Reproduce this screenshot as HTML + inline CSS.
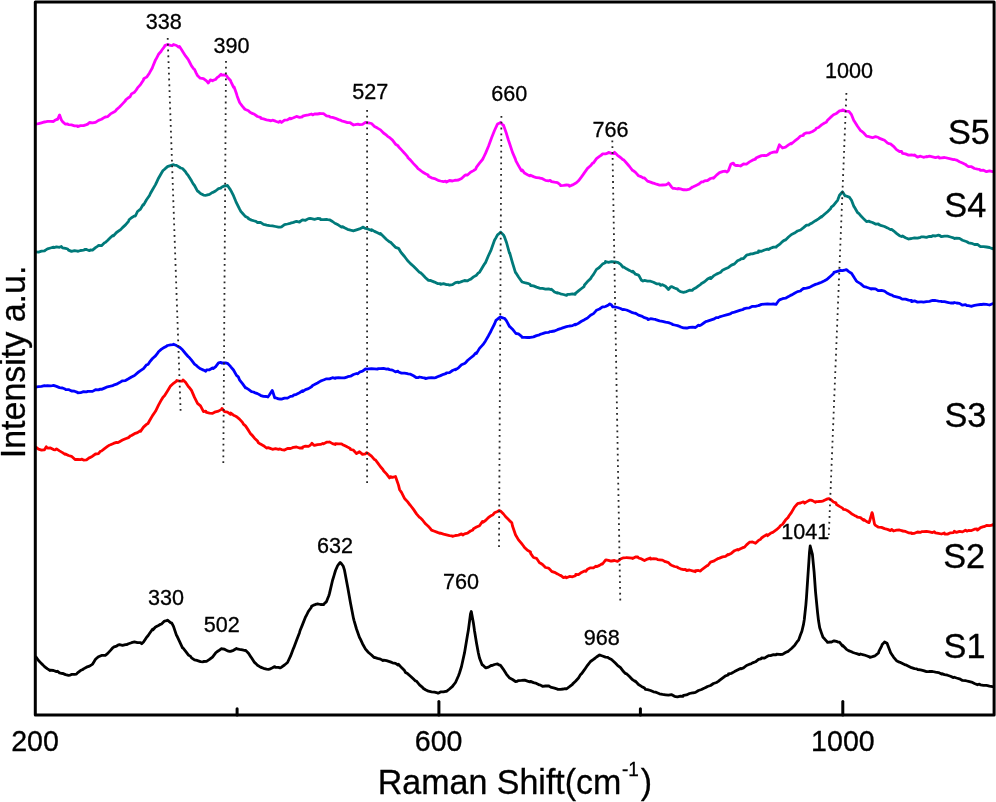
<!DOCTYPE html>
<html><head><meta charset="utf-8"><title>Raman spectra</title>
<style>
html,body{margin:0;padding:0;background:#fff;}
body{width:996px;height:802px;overflow:hidden;}
svg{display:block;}
text{font-family:"Liberation Sans",sans-serif;fill:#000;stroke:#000;stroke-width:0.3px;}
</style></head><body>
<svg width="996" height="802" viewBox="0 0 996 802">
<rect x="0" y="0" width="996" height="802" fill="#ffffff"/>
<path d="M35.5,124.2 L38.5,123.7 L41.5,122.8 L44.5,121.9 L45.1,122.0 L47.5,121.3 L50.5,121.4 L53.5,121.5 L55.1,120.2 L56.5,119.5 L57.6,119.3 L59.5,115.1 L59.6,115.0 L61.4,119.9 L62.5,121.6 L65.5,124.2 L67.7,124.0 L68.5,124.7 L71.5,124.9 L74.5,125.8 L77.5,125.8 L77.7,126.6 L80.5,125.7 L83.5,125.6 L86.5,124.6 L87.7,124.1 L89.5,122.5 L92.5,122.9 L95.3,122.4 L95.5,122.4 L98.5,120.4 L101.5,119.3 L104.5,117.4 L105.3,117.0 L107.5,116.7 L110.5,113.9 L113.5,112.2 L115.3,111.3 L116.5,109.6 L119.5,107.0 L122.5,103.9 L125.4,100.8 L125.5,100.1 L128.5,97.7 L130.0,96.8 L131.5,93.9 L134.5,92.2 L136.2,90.0 L137.5,87.9 L140.5,84.6 L143.5,79.9 L143.7,78.7 L146.5,77.1 L146.8,77.1 L149.5,72.9 L152.4,67.7 L152.5,67.2 L155.5,59.9 L156.2,58.8 L158.5,54.3 L161.2,51.3 L161.5,50.5 L164.5,46.6 L164.9,45.6 L167.5,44.5 L168.0,44.6 L170.5,45.3 L172.4,45.6 L173.5,44.5 L176.5,45.5 L178.6,47.1 L179.5,46.5 L182.4,51.0 L182.5,51.3 L185.5,55.9 L187.4,58.4 L188.5,60.0 L191.5,65.8 L191.7,66.1 L193.6,68.8 L194.5,69.4 L196.1,72.8 L197.5,75.5 L199.8,77.9 L200.5,78.2 L203.5,78.6 L204.8,79.6 L206.5,80.9 L208.3,83.0 L209.5,81.2 L210.4,79.9 L212.5,80.8 L212.9,80.3 L215.5,79.5 L217.3,77.4 L218.5,76.7 L221.0,74.3 L221.5,75.1 L224.5,74.9 L226.6,75.8 L227.5,77.3 L230.5,80.5 L231.0,81.8 L233.5,87.2 L234.1,87.0 L236.5,93.8 L237.2,96.2 L239.5,102.3 L240.3,103.5 L242.5,106.4 L244.7,109.0 L245.5,109.5 L248.5,110.8 L249.7,112.0 L251.5,113.1 L254.5,114.3 L257.5,116.5 L260.5,117.3 L260.9,118.4 L263.5,118.9 L266.5,119.8 L269.5,120.3 L271.0,120.8 L272.5,120.2 L275.5,121.2 L278.5,122.3 L280.0,121.1 L281.5,122.5 L284.5,120.1 L287.5,119.9 L290.0,118.2 L290.5,118.9 L293.5,117.8 L296.5,116.4 L299.5,117.3 L302.5,116.8 L302.6,116.1 L305.5,115.4 L308.5,114.9 L311.5,114.0 L312.6,114.9 L314.5,114.0 L317.5,114.0 L320.2,113.5 L320.5,113.6 L323.5,113.7 L326.5,115.9 L329.5,116.3 L330.2,117.1 L332.5,117.4 L335.5,118.3 L338.5,119.6 L340.2,120.1 L341.5,120.8 L344.5,121.6 L347.5,122.6 L350.3,122.7 L350.5,123.0 L353.5,125.0 L356.5,124.3 L357.8,124.2 L359.5,124.7 L362.5,124.4 L365.5,122.3 L366.6,122.8 L368.5,122.8 L371.5,123.5 L374.5,126.5 L377.5,128.1 L377.9,128.4 L380.5,129.9 L383.5,133.0 L386.5,135.2 L387.9,136.6 L389.5,137.5 L392.5,140.1 L395.5,144.2 L398.0,145.7 L398.5,146.7 L401.5,149.9 L404.5,153.2 L407.5,156.7 L408.0,157.8 L410.5,160.1 L413.5,163.6 L416.5,166.7 L418.0,168.7 L419.5,169.7 L422.5,172.0 L425.5,173.7 L428.1,174.9 L428.5,176.3 L431.5,177.8 L434.5,178.6 L437.5,180.0 L438.1,180.3 L440.5,181.0 L443.5,181.7 L445.7,181.2 L446.5,182.1 L449.5,180.5 L452.5,181.0 L455.5,180.2 L455.7,180.3 L458.5,180.0 L461.5,178.5 L464.5,175.7 L465.7,174.8 L467.5,175.0 L470.5,172.3 L473.5,170.6 L475.8,169.0 L476.5,167.1 L479.5,163.1 L482.5,159.5 L483.3,158.0 L485.5,153.4 L488.5,146.2 L490.8,140.1 L491.5,138.0 L494.5,130.5 L497.1,124.9 L497.5,124.1 L500.4,122.7 L500.5,122.4 L503.4,125.6 L503.5,125.1 L506.5,133.8 L508.4,140.0 L509.5,143.2 L512.5,152.4 L515.5,159.4 L515.9,160.8 L518.5,165.6 L521.5,170.9 L522.2,169.9 L524.5,173.1 L527.5,174.7 L530.0,175.9 L530.5,175.3 L533.5,176.6 L536.5,177.7 L539.5,177.9 L540.0,178.1 L542.5,178.7 L545.5,180.4 L548.5,180.8 L550.1,180.3 L551.5,181.6 L554.5,182.2 L557.5,182.7 L560.1,184.6 L560.5,185.6 L563.5,185.4 L566.5,185.0 L568.9,185.2 L569.5,186.2 L572.5,184.9 L575.5,183.3 L576.4,182.7 L578.5,180.8 L581.5,176.9 L584.0,173.4 L584.5,172.6 L587.5,168.4 L590.5,165.8 L592.8,162.8 L593.5,162.9 L596.5,158.6 L599.5,156.3 L601.5,155.0 L602.5,153.8 L605.5,153.8 L607.8,153.2 L608.5,152.3 L611.5,153.3 L614.1,153.7 L614.5,152.3 L617.5,155.3 L620.5,157.5 L622.9,159.6 L623.5,159.6 L626.5,163.0 L629.5,166.5 L632.5,170.3 L632.9,170.3 L635.5,172.4 L638.5,175.7 L641.5,176.9 L643.0,177.9 L644.5,178.0 L647.5,181.1 L650.5,182.1 L653.0,183.1 L653.5,183.1 L656.5,184.2 L659.5,185.2 L660.5,185.1 L662.5,185.0 L665.5,184.9 L668.5,183.5 L668.6,183.0 L671.5,186.9 L673.1,188.4 L674.5,188.3 L677.5,189.0 L678.1,188.5 L680.5,188.9 L683.5,189.9 L684.4,189.6 L686.5,189.9 L689.5,189.1 L692.5,187.0 L693.2,186.8 L695.5,185.7 L698.5,184.3 L701.5,181.9 L703.2,181.8 L704.5,180.9 L707.5,180.5 L710.5,178.5 L713.2,177.9 L713.5,178.2 L716.5,175.1 L719.5,172.6 L722.5,171.6 L723.3,171.4 L725.5,171.2 L727.0,172.1 L728.5,170.5 L730.8,164.2 L731.5,163.9 L733.3,163.1 L734.5,164.9 L735.8,165.5 L737.5,165.4 L740.5,166.0 L743.5,164.0 L745.9,164.1 L746.5,164.1 L749.5,161.9 L752.5,160.2 L755.5,159.2 L755.9,158.0 L758.5,156.9 L761.5,155.6 L764.5,155.4 L765.9,155.7 L767.5,155.0 L770.5,153.0 L773.5,152.1 L774.7,152.0 L776.5,152.2 L776.8,151.9 L779.4,144.8 L779.5,144.9 L782.4,147.9 L782.5,148.0 L785.5,147.1 L788.5,144.9 L791.2,143.3 L791.5,143.8 L794.5,141.2 L797.5,138.9 L800.5,136.0 L803.5,135.3 L803.7,134.0 L806.5,132.9 L809.5,132.8 L812.5,131.5 L815.5,129.6 L816.3,128.3 L818.5,127.5 L821.5,124.9 L824.5,123.0 L826.3,122.3 L827.5,120.3 L830.5,117.4 L833.5,114.8 L836.4,113.4 L836.5,113.3 L839.5,110.9 L842.5,110.5 L842.6,109.8 L845.5,111.1 L848.5,111.4 L848.9,111.4 L851.5,114.7 L853.9,120.7 L854.5,121.4 L857.5,126.3 L860.5,130.5 L861.5,131.1 L863.5,132.8 L866.5,136.1 L869.0,136.6 L869.5,136.9 L872.5,137.7 L875.5,136.6 L878.5,137.5 L879.0,138.1 L881.5,139.1 L884.5,140.3 L887.5,143.0 L889.1,143.6 L890.5,143.8 L893.5,146.3 L896.5,149.6 L899.5,151.5 L901.6,151.4 L902.5,153.3 L905.5,153.9 L908.5,155.1 L911.5,154.9 L914.2,155.4 L914.5,155.0 L917.5,157.2 L920.5,156.2 L923.5,157.3 L926.5,156.5 L926.7,156.9 L929.5,156.1 L932.5,156.9 L935.5,157.7 L938.5,156.8 L939.3,158.0 L941.5,157.9 L944.5,157.5 L947.5,158.2 L950.5,158.8 L953.5,159.6 L954.3,159.5 L956.5,160.1 L959.5,161.7 L962.5,163.0 L965.5,164.4 L966.9,165.6 L968.5,166.7 L971.5,166.7 L974.5,168.5 L977.5,169.1 L979.4,169.3 L980.5,170.4 L983.5,170.2 L986.5,171.7 L989.5,170.9 L992.5,171.6 L993.2,171.3" fill="none" stroke="#ff00ff" stroke-width="2.8" stroke-linejoin="round" stroke-linecap="butt"/>
<path d="M35.5,251.8 L38.5,252.1 L41.5,251.2 L44.5,250.9 L45.1,250.4 L47.5,248.9 L50.5,248.0 L53.5,247.2 L53.8,247.7 L56.5,246.8 L59.5,247.3 L61.4,246.5 L62.5,247.9 L65.5,248.4 L67.7,249.0 L68.5,250.1 L71.5,251.4 L74.5,250.7 L77.5,251.2 L77.7,251.3 L80.5,250.5 L83.5,250.2 L85.2,249.3 L86.5,249.5 L89.5,250.7 L90.2,250.0 L92.5,250.1 L95.5,247.6 L97.8,246.1 L98.5,245.4 L101.5,245.7 L104.5,242.8 L105.3,242.5 L107.5,240.5 L110.5,237.6 L112.8,235.4 L113.5,235.8 L116.5,232.5 L119.5,230.3 L120.4,229.9 L122.5,227.6 L125.5,224.9 L128.5,221.3 L129.1,219.8 L131.5,217.7 L134.5,215.9 L135.4,216.0 L137.5,211.5 L140.5,209.1 L143.0,204.8 L143.5,205.1 L146.5,199.8 L149.5,195.5 L150.5,193.2 L152.5,189.7 L155.5,184.6 L156.8,181.8 L158.5,178.2 L161.5,173.0 L163.0,170.5 L164.5,169.3 L167.5,166.6 L168.0,166.4 L170.5,165.6 L173.5,164.6 L174.3,165.1 L176.5,165.4 L179.5,167.2 L180.6,168.0 L182.5,168.5 L185.5,171.7 L186.9,173.9 L188.5,175.9 L191.5,180.8 L193.2,183.9 L194.5,185.5 L197.5,191.1 L198.2,191.4 L200.5,193.5 L203.5,195.1 L205.7,195.3 L206.5,195.2 L209.5,194.3 L212.5,192.3 L213.2,192.3 L215.5,191.0 L218.5,188.7 L220.8,188.2 L221.5,187.2 L224.5,185.9 L225.8,185.8 L227.5,185.5 L230.5,189.9 L230.8,190.3 L233.5,195.7 L235.8,201.3 L236.5,202.8 L239.5,208.9 L240.8,211.4 L242.5,213.3 L245.5,216.6 L248.4,218.0 L248.5,218.8 L251.5,220.1 L254.5,221.0 L255.9,221.4 L257.5,222.5 L260.5,222.4 L263.5,224.4 L265.9,224.9 L266.5,225.1 L269.5,225.7 L272.5,225.8 L275.5,226.5 L278.5,227.2 L280.0,227.1 L281.5,226.8 L284.5,224.6 L287.5,224.0 L290.0,223.4 L290.5,223.2 L293.5,222.4 L296.5,221.3 L299.5,222.2 L300.1,221.5 L302.5,219.8 L305.5,220.3 L308.5,218.6 L310.1,218.5 L311.5,218.7 L314.5,219.4 L317.5,218.5 L320.2,218.7 L320.5,219.5 L323.5,219.7 L326.5,219.5 L327.7,219.7 L329.5,219.8 L332.5,221.5 L335.2,223.5 L335.5,223.6 L338.5,225.1 L341.5,227.1 L342.7,226.7 L344.5,227.8 L347.5,229.3 L350.5,230.2 L353.5,230.9 L354.0,230.6 L356.5,229.8 L359.5,228.9 L362.5,227.4 L362.8,227.1 L365.5,228.5 L368.5,229.2 L371.5,230.5 L371.6,229.6 L374.5,231.4 L377.5,232.7 L380.4,234.2 L380.5,233.5 L383.5,236.5 L386.5,239.5 L389.5,241.8 L390.4,242.1 L392.5,244.2 L395.5,247.3 L398.5,248.3 L400.5,251.6 L401.5,253.0 L404.5,256.5 L407.5,260.5 L410.5,263.6 L413.5,266.3 L416.5,269.3 L419.5,272.4 L420.6,272.7 L422.5,274.6 L425.5,277.7 L428.5,280.4 L430.6,280.5 L431.5,280.9 L434.5,282.1 L437.5,283.6 L440.5,283.6 L440.6,284.3 L443.5,283.7 L446.5,284.6 L448.2,284.7 L449.5,285.1 L452.5,284.7 L455.5,282.6 L458.2,282.1 L458.5,282.7 L461.5,281.6 L464.5,280.5 L467.5,280.9 L468.3,280.3 L470.5,279.3 L473.5,276.9 L476.5,275.2 L478.3,272.9 L479.5,272.3 L482.5,267.2 L484.6,263.8 L485.5,262.6 L488.5,255.5 L490.8,250.7 L491.5,248.8 L494.5,240.3 L495.9,237.9 L497.5,234.9 L500.1,232.9 L500.5,232.1 L503.5,234.9 L504.6,237.2 L506.5,242.5 L509.5,253.3 L509.7,253.0 L512.5,262.9 L515.5,272.7 L516.0,272.9 L518.5,277.0 L521.5,281.3 L522.2,282.0 L524.5,282.6 L527.5,283.3 L530.0,284.3 L530.5,285.5 L533.5,285.9 L536.5,287.1 L539.5,288.1 L540.0,288.4 L542.5,288.3 L545.5,289.1 L548.5,288.8 L551.3,289.6 L551.5,289.3 L554.5,292.0 L557.5,293.1 L557.6,292.7 L560.5,293.8 L563.5,294.5 L566.5,295.4 L567.7,294.3 L569.5,294.4 L572.5,293.9 L575.2,294.4 L575.5,293.4 L578.5,290.9 L581.5,288.5 L584.0,286.6 L584.5,285.0 L587.5,281.6 L590.5,278.7 L591.5,277.0 L593.5,274.4 L596.5,269.4 L599.0,267.8 L599.5,267.2 L602.5,264.1 L605.3,262.8 L605.5,261.5 L608.5,262.4 L611.5,261.7 L614.5,261.9 L615.3,262.0 L617.5,262.3 L620.5,264.1 L622.9,267.0 L623.5,266.8 L626.5,268.8 L629.5,270.4 L632.5,272.1 L632.9,271.3 L635.5,274.2 L638.5,275.1 L639.2,276.1 L641.5,280.3 L643.0,281.1 L644.5,280.4 L647.5,281.1 L650.5,281.2 L653.5,282.3 L656.5,283.8 L659.5,283.8 L660.5,285.3 L662.5,284.7 L665.5,286.2 L668.5,289.5 L668.6,289.4 L670.6,286.8 L671.5,286.6 L674.5,288.0 L677.5,289.1 L678.1,290.1 L680.5,291.7 L683.5,292.3 L684.4,292.1 L686.5,291.6 L689.5,290.2 L692.5,290.3 L693.2,289.3 L695.5,288.1 L698.5,285.8 L700.7,284.3 L701.5,283.5 L704.5,281.7 L707.5,279.1 L710.5,277.5 L710.7,278.7 L713.5,275.9 L716.5,274.1 L719.5,272.8 L720.8,272.2 L722.5,270.2 L725.5,268.8 L728.5,267.4 L730.8,265.6 L731.5,265.1 L734.5,263.9 L737.5,260.8 L740.5,259.4 L740.8,258.9 L743.5,258.5 L746.5,255.2 L749.5,254.4 L750.9,253.9 L752.5,253.9 L755.5,252.9 L758.5,252.4 L758.6,250.9 L761.5,251.3 L764.5,250.0 L767.5,249.1 L768.6,249.5 L770.5,248.3 L773.5,247.1 L776.1,247.2 L776.5,246.5 L779.5,244.4 L782.5,241.6 L783.7,240.6 L785.5,239.9 L788.5,237.0 L791.5,234.5 L794.5,233.1 L796.2,231.9 L797.5,231.0 L800.5,230.0 L803.5,227.7 L806.5,225.2 L808.8,225.1 L809.5,224.3 L812.5,222.7 L815.5,220.7 L818.5,218.9 L821.3,216.6 L821.5,217.1 L824.5,214.3 L827.5,211.7 L830.5,208.8 L831.3,207.1 L833.5,205.4 L836.5,201.6 L837.6,200.3 L839.5,195.2 L842.1,192.3 L842.5,191.8 L845.1,195.9 L845.5,195.8 L848.5,196.9 L849.4,197.2 L851.5,200.3 L853.9,206.5 L854.5,207.2 L857.5,212.5 L859.0,213.6 L860.5,215.5 L863.5,218.6 L866.5,221.6 L869.0,221.1 L869.5,221.6 L872.5,222.5 L875.5,224.1 L878.5,224.0 L879.0,224.6 L881.5,225.7 L884.5,226.5 L887.5,227.9 L890.5,229.6 L891.6,229.3 L893.5,230.8 L896.5,233.4 L899.5,235.7 L901.6,236.5 L902.5,236.0 L905.5,237.7 L908.5,239.0 L909.2,238.9 L911.5,238.5 L914.5,237.8 L917.5,238.2 L920.5,237.3 L921.7,236.8 L923.5,236.8 L926.5,237.4 L929.5,236.3 L931.7,236.5 L932.5,235.6 L935.5,236.0 L938.5,235.1 L939.3,235.3 L941.5,236.7 L944.5,236.2 L947.5,236.1 L950.5,237.0 L953.5,237.9 L954.3,238.5 L956.5,238.2 L959.5,238.4 L962.5,240.2 L965.5,241.3 L966.9,241.8 L968.5,242.8 L971.5,243.3 L974.5,244.5 L977.5,244.4 L979.4,245.8 L980.5,246.7 L983.5,246.7 L986.5,247.0 L989.5,247.5 L992.5,248.7 L993.2,247.4" fill="none" stroke="#007a7a" stroke-width="2.8" stroke-linejoin="round" stroke-linecap="butt"/>
<path d="M35.5,387.1 L38.5,386.7 L41.5,386.3 L44.5,385.6 L45.1,385.9 L47.5,385.7 L50.5,385.8 L52.6,385.7 L53.5,385.4 L56.5,386.4 L59.5,387.6 L62.5,388.0 L65.1,389.0 L65.5,389.5 L68.5,389.6 L71.5,391.0 L74.5,391.2 L77.5,392.4 L77.7,392.8 L80.5,392.7 L83.5,391.6 L86.5,391.8 L87.7,391.4 L89.5,391.3 L92.5,391.4 L95.5,389.7 L98.5,389.9 L100.3,389.1 L101.5,389.4 L104.5,388.1 L107.5,386.8 L110.5,386.2 L112.8,385.6 L113.5,385.1 L116.5,384.2 L119.5,382.6 L122.5,380.8 L125.4,380.7 L125.5,380.5 L128.5,378.8 L131.5,377.0 L134.5,375.5 L137.5,372.9 L137.9,372.5 L140.5,370.7 L143.5,368.7 L146.5,364.9 L148.0,364.5 L149.5,362.2 L152.5,358.5 L155.5,355.9 L158.0,352.7 L158.5,351.7 L161.5,349.1 L164.5,347.3 L165.5,346.9 L167.5,345.5 L170.5,344.9 L173.1,344.7 L173.5,344.2 L176.5,345.6 L179.3,347.2 L179.5,347.1 L182.5,349.8 L185.5,353.5 L188.1,356.5 L188.5,356.7 L191.5,360.2 L194.5,364.2 L196.9,365.9 L197.5,366.6 L200.5,368.8 L203.5,370.1 L205.7,371.2 L206.5,369.9 L209.5,369.8 L212.5,368.0 L213.2,368.5 L215.5,366.9 L218.5,362.8 L220.8,362.3 L221.5,363.0 L224.5,363.0 L225.8,363.0 L227.5,363.3 L230.5,366.4 L230.8,366.8 L233.5,370.0 L236.5,375.4 L238.3,376.9 L239.5,379.8 L242.5,383.6 L245.5,387.9 L245.9,387.8 L248.5,389.4 L251.5,391.6 L253.4,392.0 L254.5,392.6 L257.5,393.6 L260.5,395.3 L260.9,395.6 L263.5,396.4 L266.5,396.5 L267.9,397.0 L269.5,394.7 L272.2,390.4 L272.5,390.9 L274.7,397.8 L275.5,397.7 L278.5,398.9 L280.0,399.0 L281.5,399.1 L284.5,398.1 L287.5,398.1 L290.5,396.4 L292.5,396.1 L293.5,395.2 L296.5,394.3 L299.5,392.7 L302.5,390.8 L302.6,391.7 L305.5,389.6 L308.5,388.6 L311.5,386.8 L312.6,385.5 L314.5,384.6 L317.5,383.0 L320.5,381.1 L322.7,380.3 L323.5,380.0 L326.5,378.8 L329.5,378.9 L332.5,377.7 L335.2,378.4 L335.5,378.0 L338.5,377.7 L341.5,377.8 L344.5,377.8 L347.5,376.8 L347.8,376.6 L350.5,376.2 L353.5,374.5 L356.5,373.5 L357.8,373.9 L359.5,372.1 L362.5,371.2 L365.5,369.0 L367.9,369.1 L368.5,368.8 L371.5,368.7 L374.5,368.8 L377.5,369.2 L377.9,368.6 L380.5,368.6 L383.5,368.3 L386.5,369.1 L387.9,368.9 L389.5,369.6 L392.5,370.1 L395.5,371.9 L398.0,371.2 L398.5,372.0 L401.5,373.1 L404.5,373.1 L407.5,373.6 L408.0,373.9 L410.5,374.2 L413.5,375.8 L416.5,377.7 L418.0,377.6 L419.5,377.0 L422.5,377.7 L425.5,378.1 L425.6,378.7 L428.5,377.9 L431.5,377.6 L434.5,377.8 L435.6,377.6 L437.5,376.8 L440.5,375.6 L443.5,374.3 L445.7,373.7 L446.5,372.8 L449.5,372.6 L452.5,370.5 L455.5,369.3 L455.7,369.7 L458.5,367.8 L461.5,364.8 L464.5,363.5 L465.7,362.7 L467.5,360.5 L470.5,358.0 L473.5,355.7 L475.8,352.9 L476.5,353.4 L479.5,348.4 L482.5,345.1 L483.3,344.3 L485.5,340.9 L488.5,335.7 L490.8,331.5 L491.5,329.9 L494.5,324.0 L495.9,320.4 L497.5,319.2 L500.4,316.8 L500.5,317.2 L503.5,318.2 L504.6,318.4 L506.5,320.9 L509.5,326.5 L509.7,326.5 L512.5,329.2 L515.5,333.0 L516.0,333.5 L518.5,333.9 L521.5,336.3 L522.2,337.4 L524.5,337.3 L527.5,337.5 L530.0,337.5 L530.5,337.4 L533.5,336.9 L536.5,335.6 L539.5,334.9 L540.0,334.3 L542.5,333.7 L545.5,332.7 L548.5,332.4 L550.1,331.6 L551.5,331.5 L554.5,331.0 L557.5,329.7 L560.5,328.7 L562.6,327.9 L563.5,327.6 L566.5,326.7 L569.5,326.0 L572.5,325.6 L575.2,324.1 L575.5,324.9 L578.5,323.2 L581.5,321.3 L584.5,319.7 L585.2,319.2 L587.5,318.0 L590.5,315.3 L593.5,313.6 L595.3,311.6 L596.5,310.2 L599.5,309.0 L602.5,306.9 L604.0,306.9 L605.5,306.5 L608.5,304.9 L609.8,303.9 L611.5,305.0 L612.8,306.9 L614.5,306.9 L617.5,307.5 L620.5,308.5 L622.9,309.7 L623.5,309.4 L626.5,310.0 L629.5,311.3 L632.5,312.7 L635.4,313.5 L635.5,313.3 L638.5,315.1 L641.5,316.1 L644.5,317.7 L647.5,318.6 L648.0,319.6 L650.5,318.7 L653.5,319.2 L655.5,319.4 L656.5,319.9 L659.5,320.9 L662.5,321.3 L665.5,322.2 L668.5,322.6 L671.5,323.7 L673.1,324.7 L674.5,325.0 L677.5,325.6 L680.5,326.8 L680.6,327.0 L683.5,327.9 L686.5,328.0 L686.9,328.1 L689.5,327.3 L692.5,327.1 L695.5,327.5 L698.5,325.1 L699.4,325.6 L701.5,324.7 L704.5,322.5 L705.7,321.7 L707.5,321.2 L710.5,320.2 L713.5,319.2 L716.5,317.6 L718.3,317.6 L719.5,316.9 L722.5,316.0 L725.5,315.2 L728.5,314.3 L730.8,313.6 L731.5,312.8 L734.5,312.2 L737.5,311.2 L740.5,310.2 L743.4,309.5 L743.5,308.8 L746.5,308.1 L749.5,307.8 L752.5,306.3 L755.5,306.4 L758.5,305.5 L758.6,305.6 L761.5,304.4 L764.5,304.1 L767.5,304.0 L770.5,304.1 L771.1,304.1 L773.5,304.0 L776.1,304.3 L776.5,303.8 L778.6,300.8 L779.5,299.9 L782.5,298.7 L785.5,298.2 L788.5,296.6 L791.2,295.0 L791.5,295.1 L794.5,293.3 L797.5,291.6 L800.5,291.0 L801.2,290.2 L803.5,288.5 L806.5,288.2 L809.5,287.4 L812.5,285.7 L815.5,284.4 L816.3,284.2 L818.5,283.4 L821.5,282.2 L824.5,280.8 L826.3,279.8 L827.5,278.9 L830.5,276.2 L833.5,273.5 L833.9,272.4 L836.5,271.6 L839.5,270.7 L840.1,270.3 L842.5,270.6 L845.5,269.9 L846.4,269.6 L848.5,271.3 L851.4,273.3 L851.5,273.2 L854.5,278.1 L856.4,281.0 L857.5,281.9 L860.5,283.6 L863.5,286.3 L864.0,286.6 L866.5,287.2 L869.5,288.3 L871.5,289.1 L872.5,288.6 L875.5,288.9 L878.5,290.7 L881.5,290.4 L884.5,291.2 L887.5,293.3 L890.5,294.8 L891.6,294.8 L893.5,296.2 L896.5,296.8 L899.5,297.6 L901.6,298.7 L902.5,299.1 L905.5,299.2 L908.5,300.2 L911.5,300.5 L911.7,301.7 L914.5,300.8 L917.5,302.1 L920.5,301.8 L921.7,301.8 L923.5,302.1 L926.5,301.6 L929.5,301.3 L931.7,300.7 L932.5,300.4 L935.5,300.5 L938.5,301.1 L941.5,301.3 L941.8,301.7 L944.5,301.6 L947.5,302.3 L950.5,303.0 L953.5,303.0 L954.3,302.5 L956.5,303.0 L959.5,303.4 L962.5,305.2 L965.5,304.7 L966.9,305.7 L968.5,305.6 L971.5,306.4 L971.9,306.1 L974.5,305.4 L977.5,304.9 L980.5,304.5 L981.9,304.5 L983.5,304.2 L986.5,304.4 L989.5,305.0 L992.5,303.7 L993.2,304.5" fill="none" stroke="#0000ff" stroke-width="2.8" stroke-linejoin="round" stroke-linecap="butt"/>
<path d="M35.5,446.8 L38.5,449.2 L41.5,450.2 L43.8,449.8 L44.5,449.8 L46.3,446.8 L47.5,448.2 L50.5,448.0 L53.5,449.6 L55.1,449.9 L56.5,448.9 L59.5,450.9 L62.5,452.6 L65.1,454.4 L65.5,453.9 L68.5,455.5 L71.5,456.3 L74.5,459.1 L75.2,459.5 L77.5,459.3 L80.5,459.7 L81.5,459.1 L83.5,460.1 L86.5,459.9 L89.5,457.6 L90.2,457.5 L92.5,456.2 L95.5,454.0 L98.5,453.6 L100.3,451.3 L101.5,451.0 L104.5,448.6 L107.5,446.4 L109.1,445.3 L110.5,444.8 L113.5,443.4 L116.5,442.4 L117.9,442.6 L119.5,441.7 L122.5,440.1 L125.5,438.7 L128.5,437.6 L130.4,435.9 L131.5,435.5 L134.5,433.7 L137.5,432.7 L140.4,430.7 L140.5,431.4 L143.5,427.1 L146.5,424.4 L148.0,423.5 L149.5,420.8 L152.5,415.6 L155.5,411.3 L158.5,405.2 L161.5,399.7 L163.0,397.2 L164.5,395.7 L167.5,390.9 L170.5,386.0 L170.6,386.1 L173.5,383.3 L176.5,381.1 L176.8,380.5 L179.5,381.1 L182.5,381.1 L183.1,379.9 L185.5,382.2 L188.5,386.8 L189.4,387.6 L191.5,390.4 L194.5,397.4 L196.9,402.1 L197.5,403.3 L200.5,405.8 L203.5,411.7 L205.7,411.1 L206.5,412.4 L209.5,413.2 L212.5,413.4 L213.2,413.0 L215.5,411.8 L218.5,411.1 L221.5,409.4 L222.0,408.4 L224.5,411.6 L227.5,412.1 L230.5,414.3 L230.8,413.0 L233.5,415.2 L235.8,416.3 L236.5,416.7 L239.5,419.1 L242.5,422.4 L243.4,424.1 L245.5,425.9 L248.5,430.4 L250.9,434.3 L251.5,434.5 L254.5,438.2 L257.5,441.0 L258.4,442.8 L260.5,444.1 L263.5,445.7 L266.5,448.0 L268.5,447.7 L269.5,448.1 L272.5,449.3 L275.5,448.7 L278.5,449.4 L280.0,448.9 L281.5,449.6 L284.5,450.1 L287.5,448.5 L290.5,448.5 L292.5,447.7 L293.5,447.4 L296.5,447.0 L299.5,448.0 L302.5,448.0 L302.6,447.0 L305.5,446.1 L308.5,446.4 L310.1,445.4 L311.5,443.8 L311.9,443.2 L313.9,445.2 L314.5,445.4 L317.5,444.6 L320.5,444.4 L322.7,443.4 L323.5,443.9 L326.5,442.2 L328.9,442.2 L329.5,441.9 L332.5,443.6 L335.2,444.5 L335.5,443.6 L338.5,443.9 L341.5,443.8 L342.7,444.7 L344.5,445.6 L347.5,447.1 L350.3,448.4 L350.5,449.5 L353.5,450.2 L356.5,453.6 L357.8,452.8 L359.5,451.7 L362.5,454.4 L365.5,453.9 L366.6,452.6 L368.5,453.8 L371.5,456.2 L374.5,459.7 L375.4,459.9 L377.5,462.6 L380.5,466.8 L382.9,469.5 L383.5,470.7 L386.5,473.9 L389.5,477.9 L390.4,476.6 L392.5,477.3 L395.5,476.5 L398.5,485.1 L399.6,489.7 L401.5,492.4 L404.5,498.3 L405.5,499.5 L407.5,501.6 L410.1,505.1 L410.5,505.5 L413.5,509.4 L416.5,513.9 L419.5,517.4 L420.2,517.6 L422.5,520.0 L425.5,523.8 L428.5,526.5 L430.2,528.4 L431.5,530.1 L434.5,531.2 L437.5,532.4 L440.2,533.4 L440.5,533.2 L443.5,534.1 L446.5,534.9 L449.5,535.7 L451.5,535.8 L452.5,536.4 L455.5,535.5 L458.5,535.1 L461.5,533.9 L462.8,535.0 L464.5,533.9 L467.5,533.2 L470.5,531.0 L472.9,529.9 L473.5,528.7 L476.5,527.1 L479.5,525.7 L482.5,521.4 L482.9,522.3 L485.5,520.5 L488.5,517.5 L491.5,515.4 L493.0,514.7 L494.5,512.8 L497.5,511.5 L499.2,510.5 L500.5,511.0 L503.5,514.0 L505.5,516.5 L506.5,517.6 L509.5,520.6 L511.8,522.7 L512.5,526.0 L515.5,534.8 L518.5,539.9 L521.5,543.4 L523.1,545.5 L524.5,547.4 L527.5,550.3 L530.5,552.0 L530.6,553.4 L533.5,557.5 L536.5,558.3 L539.5,562.7 L540.6,563.3 L542.5,564.5 L545.5,567.5 L548.5,568.1 L550.7,570.2 L551.5,571.3 L554.5,572.3 L557.5,573.9 L560.5,575.6 L560.7,575.4 L563.5,577.7 L565.7,576.9 L566.5,577.8 L569.5,576.4 L572.5,576.8 L575.5,575.6 L575.8,574.3 L578.5,574.6 L581.5,572.4 L584.5,571.0 L585.8,571.4 L587.5,569.2 L590.5,567.8 L593.5,567.8 L595.9,566.2 L596.5,566.7 L599.5,565.4 L602.1,563.8 L602.5,564.0 L605.5,560.1 L605.9,559.8 L608.5,560.3 L610.9,561.1 L611.5,561.0 L614.5,560.5 L617.5,561.3 L619.7,559.8 L620.5,559.0 L623.5,557.8 L626.0,557.7 L626.5,557.6 L629.5,557.9 L632.5,558.2 L632.6,558.5 L635.5,557.0 L637.7,556.8 L638.5,558.0 L641.5,558.9 L643.9,560.2 L644.5,560.6 L647.5,559.1 L650.2,558.0 L650.5,559.1 L653.5,558.7 L656.5,558.8 L657.7,559.6 L659.5,559.8 L662.5,560.1 L665.3,561.7 L665.5,561.7 L668.5,562.6 L670.3,564.6 L671.5,565.2 L674.5,566.5 L677.5,567.1 L677.8,567.8 L680.5,568.8 L683.5,569.7 L685.3,569.4 L686.5,570.5 L689.5,570.0 L692.5,570.8 L695.4,571.7 L695.5,570.6 L698.5,570.5 L700.4,571.1 L701.5,569.9 L704.5,567.7 L707.5,565.4 L707.9,565.5 L710.5,562.2 L713.5,561.2 L716.5,559.4 L718.0,558.6 L719.5,558.1 L722.5,556.9 L725.5,556.3 L728.0,554.5 L728.5,554.8 L731.5,553.2 L734.5,550.7 L737.5,549.5 L738.1,550.0 L740.5,548.7 L743.5,547.4 L744.3,547.4 L746.5,544.9 L749.5,542.2 L750.6,542.1 L752.5,541.9 L754.4,542.8 L755.5,543.3 L758.5,540.4 L760.6,539.2 L761.5,538.0 L764.5,535.9 L766.9,534.6 L767.5,535.7 L770.5,533.3 L773.2,532.1 L773.5,531.9 L776.5,529.7 L779.5,526.9 L780.7,525.4 L782.5,524.4 L785.5,520.1 L788.3,517.3 L788.5,516.5 L791.5,512.4 L794.5,507.1 L797.5,503.7 L798.3,503.3 L800.5,503.0 L803.5,501.8 L804.6,503.2 L806.5,501.9 L809.5,500.2 L810.8,500.1 L812.5,500.6 L815.5,502.4 L815.9,501.6 L818.5,501.5 L821.5,501.3 L823.4,500.8 L824.5,500.2 L827.5,498.9 L828.9,498.6 L830.5,499.4 L833.5,502.0 L835.9,502.8 L836.5,504.5 L839.5,506.4 L842.5,508.1 L843.5,509.4 L845.5,509.6 L848.5,511.3 L850.0,512.4 L851.5,513.7 L854.5,515.4 L856.4,516.3 L857.5,517.2 L860.5,517.6 L863.5,520.3 L864.0,519.6 L866.5,521.5 L869.0,522.6 L869.5,521.5 L872.0,512.6 L872.5,513.8 L874.5,524.1 L875.5,525.4 L878.5,527.2 L881.5,527.4 L884.5,528.6 L887.5,529.4 L890.5,530.6 L891.6,529.4 L893.5,531.0 L896.5,530.2 L899.5,530.0 L901.6,530.6 L902.5,531.0 L905.5,531.4 L908.5,532.8 L911.5,533.0 L911.7,533.5 L914.5,533.3 L917.5,532.0 L920.5,532.4 L921.7,531.7 L923.5,531.7 L926.5,531.3 L929.5,531.8 L932.5,532.6 L934.3,531.7 L935.5,532.9 L938.5,533.4 L941.5,534.0 L944.3,533.0 L944.5,534.0 L947.5,534.1 L950.5,532.8 L953.5,532.6 L954.3,531.2 L956.5,532.4 L959.5,531.4 L962.5,531.9 L965.5,530.2 L966.9,531.2 L968.5,530.5 L971.5,530.6 L974.5,529.2 L976.9,528.8 L977.5,530.1 L980.5,527.6 L983.5,526.6 L984.5,526.5 L986.5,525.5 L989.5,525.7 L992.5,525.1 L993.2,523.7" fill="none" stroke="#ff0000" stroke-width="2.8" stroke-linejoin="round" stroke-linecap="butt"/>
<path d="M35.5,656.2 L38.5,660.5 L41.5,663.6 L42.6,664.6 L44.5,666.6 L47.5,668.9 L50.1,670.5 L50.5,670.2 L53.5,670.5 L56.5,671.6 L57.6,671.2 L59.5,672.9 L62.5,673.6 L62.6,673.4 L65.5,674.6 L68.5,675.4 L70.2,675.1 L71.5,674.4 L74.5,674.3 L76.4,674.1 L77.5,672.9 L80.5,670.6 L82.7,669.6 L83.5,668.9 L86.5,667.2 L89.5,666.2 L91.5,664.9 L92.5,664.2 L95.5,659.3 L97.8,657.2 L98.5,656.8 L101.5,655.4 L104.5,655.4 L105.3,655.3 L107.5,653.6 L110.5,650.4 L112.8,647.8 L113.5,647.2 L116.5,646.2 L117.9,645.1 L119.5,644.6 L122.5,645.4 L125.5,644.6 L126.6,644.6 L128.5,643.8 L131.5,642.7 L134.5,641.9 L135.4,642.1 L137.5,642.7 L140.5,642.6 L141.7,643.7 L143.5,642.0 L146.5,637.4 L148.0,635.7 L149.5,633.5 L152.5,629.2 L153.0,629.8 L155.5,627.0 L158.5,625.5 L160.5,624.3 L161.5,624.0 L164.5,621.1 L166.8,620.7 L167.5,620.2 L170.5,622.6 L171.8,623.1 L173.5,626.4 L176.5,635.4 L176.8,635.6 L179.5,641.4 L182.5,647.8 L183.1,648.1 L185.5,651.1 L188.5,655.1 L190.6,656.4 L191.5,657.9 L194.5,659.9 L196.9,660.4 L197.5,660.6 L200.5,661.6 L203.2,661.8 L203.5,661.5 L206.5,661.4 L209.5,659.4 L212.5,657.1 L215.5,653.1 L217.0,651.7 L218.5,650.8 L221.5,648.6 L222.8,649.0 L224.5,649.2 L227.5,650.9 L229.5,651.3 L230.5,651.3 L233.5,650.3 L236.5,648.5 L237.1,648.8 L239.5,649.3 L242.5,649.8 L244.6,650.5 L245.5,650.3 L248.5,653.3 L250.9,657.1 L251.5,657.7 L254.5,662.4 L255.9,663.6 L257.5,665.3 L260.5,667.1 L263.4,668.3 L263.5,668.3 L266.5,669.2 L268.5,669.4 L269.5,669.2 L272.5,667.8 L274.7,666.6 L275.5,667.4 L278.5,667.4 L280.0,667.9 L281.5,667.2 L284.5,665.0 L287.5,662.5 L290.5,656.2 L293.5,648.3 L293.8,647.8 L296.5,640.5 L299.5,632.7 L300.1,630.5 L302.5,624.6 L305.5,616.9 L306.4,615.5 L308.5,611.2 L311.4,607.2 L311.5,606.3 L314.5,604.8 L316.4,604.2 L317.5,603.8 L320.5,604.5 L323.5,604.7 L323.9,604.0 L326.5,601.6 L328.9,595.5 L329.5,593.4 L332.5,580.5 L334.0,575.7 L335.5,570.5 L337.7,565.5 L338.5,564.5 L340.2,562.5 L341.5,563.8 L343.3,566.3 L344.5,570.2 L347.5,586.2 L347.8,587.8 L350.5,603.1 L353.5,618.4 L354.0,620.3 L356.5,629.0 L359.5,637.5 L360.3,638.9 L362.5,643.7 L365.5,649.1 L366.6,650.3 L368.5,652.5 L371.5,655.0 L374.1,657.5 L374.5,657.4 L377.5,658.3 L380.5,659.1 L382.9,660.5 L383.5,660.1 L386.5,660.7 L389.5,661.6 L390.4,661.9 L392.5,662.8 L395.5,663.3 L398.0,665.0 L398.5,664.3 L401.5,667.6 L404.5,670.6 L405.5,672.5 L407.5,673.6 L410.5,676.2 L413.5,679.1 L415.5,681.0 L416.5,681.2 L419.5,684.8 L422.5,687.3 L423.1,688.2 L425.5,689.7 L428.5,691.2 L430.6,691.7 L431.5,691.9 L434.5,692.2 L437.5,692.9 L438.1,693.2 L440.5,691.9 L443.5,691.9 L445.7,691.3 L446.5,691.3 L449.5,689.0 L452.5,686.4 L453.2,685.4 L455.5,682.5 L458.5,675.8 L459.5,673.0 L461.5,666.5 L464.5,652.9 L467.5,634.9 L468.3,630.6 L470.5,614.0 L471.3,611.5 L473.5,623.6 L474.5,630.8 L476.5,642.9 L478.3,652.7 L479.5,658.0 L482.1,664.8 L482.5,664.7 L485.5,667.7 L485.8,667.9 L488.5,667.1 L491.5,665.3 L492.1,665.6 L494.5,664.5 L497.5,663.9 L498.4,664.6 L500.5,665.4 L503.4,669.3 L503.5,669.6 L506.5,674.3 L509.5,677.9 L509.7,678.1 L512.5,679.5 L515.5,681.5 L517.2,681.3 L518.5,680.6 L521.5,680.4 L524.5,680.1 L524.7,680.1 L527.5,681.1 L530.0,681.9 L530.5,681.4 L533.5,682.6 L536.5,683.4 L539.5,684.9 L540.0,684.9 L542.5,686.3 L545.5,686.0 L548.5,685.8 L550.1,686.7 L551.5,687.4 L554.5,688.2 L557.5,689.1 L557.6,689.3 L560.5,689.4 L563.5,689.0 L565.1,688.6 L566.5,688.8 L569.5,686.7 L572.5,684.4 L572.7,683.9 L575.5,681.3 L578.5,678.0 L580.2,675.1 L581.5,673.8 L584.5,669.7 L587.5,665.2 L587.7,665.2 L590.5,661.5 L593.5,659.3 L595.3,658.0 L596.5,657.0 L599.5,655.0 L600.3,655.2 L602.5,656.0 L605.5,657.1 L607.8,657.4 L608.5,658.0 L611.5,659.5 L614.5,662.3 L615.3,663.1 L617.5,665.3 L620.5,667.7 L623.5,671.6 L625.4,673.5 L626.5,673.7 L629.5,676.5 L632.5,679.7 L635.4,681.7 L635.5,681.2 L638.5,684.5 L641.5,686.4 L644.5,688.0 L645.5,689.4 L647.5,689.6 L650.5,690.5 L653.5,691.8 L655.5,692.1 L656.5,692.5 L659.5,693.8 L662.5,694.4 L665.5,694.8 L668.5,695.2 L671.5,694.7 L671.8,694.7 L674.5,696.2 L675.6,696.7 L677.5,696.9 L680.5,696.1 L683.1,696.3 L683.5,695.3 L686.5,694.9 L689.5,693.5 L692.5,692.8 L693.2,692.9 L695.5,692.4 L698.5,690.5 L701.5,689.5 L704.5,688.1 L705.7,687.5 L707.5,686.5 L710.5,685.5 L713.5,683.5 L716.5,682.5 L718.3,681.4 L719.5,680.4 L722.5,678.1 L725.5,675.8 L728.3,675.0 L728.5,673.8 L731.5,673.3 L734.5,671.6 L737.5,670.0 L740.5,668.4 L740.8,668.9 L743.5,667.9 L746.5,665.5 L749.5,664.2 L750.9,663.9 L752.5,662.9 L755.5,661.8 L758.5,659.4 L760.9,658.8 L761.5,658.0 L764.5,658.1 L767.5,656.3 L768.5,655.6 L770.5,655.6 L773.5,654.6 L776.1,654.9 L776.5,654.2 L779.5,654.3 L780.0,654.5 L782.5,654.4 L785.5,652.5 L788.1,651.4 L788.5,651.0 L791.5,648.5 L794.5,645.5 L794.6,645.4 L797.5,641.3 L798.6,640.1 L800.5,634.8 L801.9,631.2 L803.5,624.4 L804.3,619.5 L805.9,604.6 L806.5,597.1 L807.6,580.7 L808.9,561.3 L809.5,552.1 L810.2,546.0 L812.4,554.4 L812.5,555.3 L814.1,571.9 L815.5,591.3 L815.7,593.6 L817.6,612.9 L818.5,620.6 L819.7,627.8 L821.5,633.1 L823.0,637.3 L824.5,638.8 L827.0,641.7 L827.5,642.3 L830.5,642.0 L831.1,642.2 L833.5,641.0 L834.3,641.0 L836.5,641.4 L838.4,642.2 L839.5,642.2 L842.4,645.9 L842.5,645.2 L845.5,648.3 L846.5,649.4 L848.5,650.6 L851.5,651.8 L853.0,652.5 L854.5,653.0 L857.5,653.9 L859.5,654.7 L860.5,654.0 L863.5,654.8 L864.3,655.0 L866.5,655.8 L869.5,656.9 L870.0,657.3 L872.5,656.6 L874.9,655.8 L875.5,655.4 L878.5,653.0 L878.9,651.3 L881.5,646.3 L882.2,644.5 L884.5,642.1 L884.6,641.9 L887.0,643.2 L887.5,644.4 L890.3,651.7 L890.5,652.5 L893.5,657.1 L896.5,660.7 L899.5,662.2 L900.0,662.3 L902.5,663.5 L905.5,664.9 L906.6,665.2 L908.5,666.2 L911.5,667.7 L914.5,668.7 L916.7,668.9 L917.5,669.5 L920.5,669.8 L923.5,670.6 L926.5,671.6 L929.2,671.6 L929.5,671.3 L932.5,671.5 L935.5,672.1 L938.5,672.6 L941.5,674.1 L941.8,673.6 L944.5,674.6 L947.5,675.2 L950.5,676.3 L953.5,677.6 L954.3,677.2 L956.5,678.0 L959.5,678.8 L962.5,680.4 L965.5,680.7 L966.9,681.0 L968.5,681.4 L971.5,682.1 L974.5,683.5 L977.5,684.8 L979.4,684.1 L980.5,684.9 L983.5,685.3 L986.5,685.4 L989.5,686.2 L992.5,686.7 L993.2,686.7" fill="none" stroke="#000000" stroke-width="2.8" stroke-linejoin="round" stroke-linecap="butt"/>
<line x1="167.7" y1="38.0" x2="180.6" y2="411.0" stroke="#262626" stroke-width="1.8" stroke-dasharray="1.8 4.0"/>
<line x1="226.0" y1="61.0" x2="223.3" y2="464.0" stroke="#262626" stroke-width="1.8" stroke-dasharray="1.8 4.0"/>
<line x1="367.1" y1="110.0" x2="367.1" y2="486.5" stroke="#262626" stroke-width="1.8" stroke-dasharray="1.8 4.0"/>
<line x1="501.4" y1="116.0" x2="499.0" y2="548.5" stroke="#262626" stroke-width="1.8" stroke-dasharray="1.8 4.0"/>
<line x1="612.3" y1="140.5" x2="620.3" y2="602.5" stroke="#262626" stroke-width="1.8" stroke-dasharray="1.8 4.0"/>
<line x1="846.4" y1="93.0" x2="828.8" y2="535.0" stroke="#262626" stroke-width="1.8" stroke-dasharray="1.8 4.0"/>
<rect x="35.3" y="1.9" width="958.8000000000001" height="713.1" fill="none" stroke="#000" stroke-width="3.0" stroke-linejoin="round"/>
<line x1="237.1" y1="715.0" x2="237.1" y2="708.8" stroke="#000" stroke-width="3" stroke-linecap="round"/>
<line x1="438.9" y1="715.0" x2="438.9" y2="701.5" stroke="#000" stroke-width="3" stroke-linecap="round"/>
<line x1="640.4" y1="715.0" x2="640.4" y2="708.8" stroke="#000" stroke-width="3" stroke-linecap="round"/>
<line x1="842.8" y1="715.0" x2="842.8" y2="701.5" stroke="#000" stroke-width="3" stroke-linecap="round"/>
<text transform="translate(163.8,28.7) scale(1,1.04)" font-size="21.6" text-anchor="middle">338</text>
<text transform="translate(231.6,52.7) scale(1,1.04)" font-size="21.6" text-anchor="middle">390</text>
<text transform="translate(370.2,99.4) scale(1,1.04)" font-size="21.6" text-anchor="middle">527</text>
<text transform="translate(509.2,100.9) scale(1,1.04)" font-size="21.6" text-anchor="middle">660</text>
<text transform="translate(610.4,136.8) scale(1,1.04)" font-size="21.6" text-anchor="middle">766</text>
<text transform="translate(849.0,78.1) scale(1,1.04)" font-size="21.6" text-anchor="middle">1000</text>
<text transform="translate(166.1,604.9) scale(1,1.04)" font-size="21.6" text-anchor="middle">330</text>
<text transform="translate(221.7,632.2) scale(1,1.04)" font-size="21.6" text-anchor="middle">502</text>
<text transform="translate(335.0,552.5) scale(1,1.04)" font-size="21.6" text-anchor="middle">632</text>
<text transform="translate(460.9,588.8) scale(1,1.04)" font-size="21.6" text-anchor="middle">760</text>
<text transform="translate(601.8,645.1) scale(1,1.04)" font-size="21.6" text-anchor="middle">968</text>
<text transform="translate(805.2,538.7) scale(1,1.04)" font-size="21.6" text-anchor="middle">1041</text>
<text transform="translate(947.9,144.4) scale(1,1.04)" font-size="34.3">S5</text>
<text transform="translate(944.3,217.2) scale(1,1.04)" font-size="34.3">S4</text>
<text transform="translate(944.5,427.0) scale(1,1.04)" font-size="34.3">S3</text>
<text transform="translate(943.2,567.7) scale(1,1.04)" font-size="34.3">S2</text>
<text transform="translate(943.6,658.3) scale(1,1.04)" font-size="34.3">S1</text>
<text transform="translate(35.05,751.0) scale(1,1.04)" font-size="28.6" text-anchor="middle">200</text>
<text transform="translate(438.6,751.0) scale(1,1.04)" font-size="28.6" text-anchor="middle">600</text>
<text transform="translate(842.9,751.0) scale(1,1.04)" font-size="28.6" text-anchor="middle">1000</text>
<text transform="translate(377.8,794.3) scale(1,1.04)" font-size="34">Raman Shift(cm<tspan font-size="19" dy="-17.6" dx="0.5">-1</tspan><tspan font-size="34" dy="17.6" dx="2">)</tspan></text>
<text transform="translate(25.0,458.3) rotate(-90) scale(1,1.04)" font-size="34">Intensity a.u.</text>
</svg>
</body></html>
